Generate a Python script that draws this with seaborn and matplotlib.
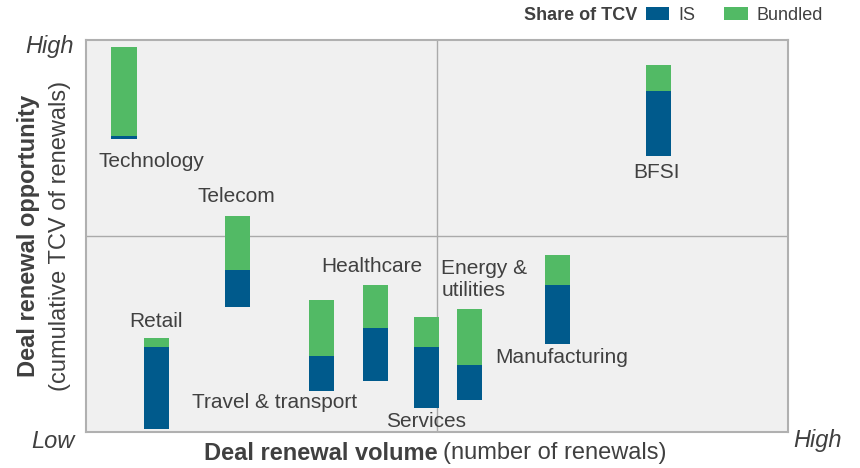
import numpy as np
import pandas as pd
import matplotlib.pyplot as plt
import seaborn as sns

# data (0-100 scale on both axes)
industries = ["Technology", "Retail", "Telecom", "Travel & transport", "Healthcare",
              "Services", "Energy &\nutilities", "Manufacturing", "BFSI"]
volume = [5.4, 10.0, 21.6, 33.5, 41.2, 48.5, 54.6, 67.2, 81.6]
base = [74.7, 0.8, 31.9, 10.5, 13.0, 6.1, 8.2, 22.4, 70.4]
is_share = [0.8, 20.9, 9.4, 8.9, 13.5, 15.6, 8.9, 15.1, 16.6]
bundled_share = [22.7, 2.3, 13.8, 14.3, 11.0, 7.6, 14.3, 7.7, 6.6]

# label anchors (data coords) and alignment
label_pos = {
    "Technology": (9.3, 68.9, "center"),
    "Retail": (10.0, 28.1, "center"),
    "Telecom": (21.4, 60.2, "center"),
    "Travel & transport": (26.8, 7.4, "center"),
    "Healthcare": (40.7, 42.1, "center"),
    "Services": (48.5, 2.6, "center"),
    "Energy &\nutilities": (50.6, 39.0, "left"),
    "Manufacturing": (58.3, 19.1, "left"),
    "BFSI": (81.3, 66.1, "center"),
}

df = pd.DataFrame({"industry": industries, "volume": volume, "base": base,
                   "IS": is_share, "Bundled": bundled_share})

BLUE = "#005A8C"
GREEN = "#52BA65"
TXT = "#404040"

sns.set_theme(style="white")
plt.rcParams["font.family"] = ["Liberation Sans", "DejaVu Sans"]

fig = plt.figure(figsize=(8.6, 4.68), dpi=100)
ax = fig.add_axes([86 / 860, 36 / 468, 702 / 860, 392 / 468])
ax.set_facecolor("#F0F0F0")

sns.barplot(data=df, x="volume", y="IS", orient="x", native_scale=True,
            color=BLUE, saturation=1, width=0.78, errorbar=None,
            bottom=df["base"].to_numpy(), linewidth=0, label="IS", ax=ax)
sns.barplot(data=df, x="volume", y="Bundled", orient="x", native_scale=True,
            color=GREEN, saturation=1, width=0.78, errorbar=None,
            bottom=(df["base"] + df["IS"]).to_numpy(), linewidth=0,
            label="Bundled", ax=ax)
handles, labels = ax.get_legend_handles_labels()
if ax.get_legend() is not None:
    ax.get_legend().remove()

ax.set_xlim(0, 100)
ax.set_ylim(0, 100)
ax.axvline(50, color="#AAAAAA", lw=1, zorder=0.5)
ax.axhline(50, color="#AAAAAA", lw=1, zorder=0.5)
ax.set_xticks([])
ax.set_yticks([])
ax.set_xlabel("")
ax.set_ylabel("")
for s in ax.spines.values():
    s.set_color("#B0B0B0")
    s.set_linewidth(1.5)

for name in industries:
    x, y, ha = label_pos[name]
    ax.text(x, y, name, ha=ha, va="center", fontsize=15, color=TXT)

# High / Low markers
fig.text(74 / 860, 1 - 47 / 468, "High", ha="right", va="center",
         fontsize=17, style="italic", color=TXT)
fig.text(75 / 860, 1 - 442 / 468, "Low", ha="right", va="center",
         fontsize=17, style="italic", color=TXT)
fig.text(793 / 860, 1 - 441 / 468, "High", ha="left", va="center",
         fontsize=17, style="italic", color=TXT)

# axis titles
fig.text(438 / 860, 1 - 453 / 468, "Deal renewal volume", ha="right", va="center",
         fontsize=17, weight="bold", color=TXT)
fig.text(443 / 860, 1 - 453 / 468, "(number of renewals)", ha="left", va="center",
         fontsize=17, color=TXT)
fig.text(29 / 860, 1 - 236 / 468, "Deal renewal opportunity", ha="center",
         va="center", rotation=90, fontsize=17, weight="bold", color=TXT)
fig.text(60 / 860, 1 - 236 / 468, "(cumulative TCV of renewals)", ha="center",
         va="center", rotation=90, fontsize=17, color=TXT)

# legend
fig.text(637 / 860, 1 - 15 / 468, "Share of TCV", ha="right", va="center",
         fontsize=13, weight="bold", color=TXT)
leg = fig.legend(handles, labels, loc="center left",
                 bbox_to_anchor=(646 / 860, 1 - 15 / 468), ncol=2,
                 frameon=False, fontsize=13, handlelength=1.3,
                 handleheight=0.75, handletextpad=0.5, columnspacing=1.6,
                 borderaxespad=0, borderpad=0)
for t in leg.get_texts():
    t.set_color(TXT)

fig.savefig("out.png", dpi=100)
